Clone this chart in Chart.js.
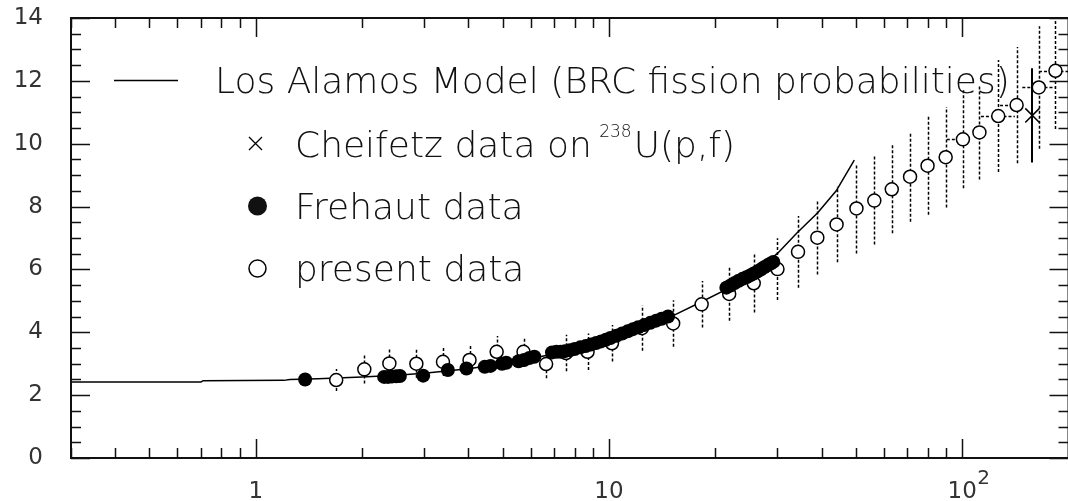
<!DOCTYPE html>
<html lang="en">
<head>
<meta charset="UTF-8">
<title>Fission cross section ratio</title>
<script src="https://cdn.jsdelivr.net/npm/chart.js"></script>
<style>
    html, body { margin: 0; padding: 0; background: #fff; overflow: hidden; }
    .wrap { position: relative; width: 1068px; height: 501px; overflow: hidden; }
    .wrap canvas { position: absolute; left: 0; top: 0; }
</style>
</head>
<body>
<div class="wrap"><canvas id="chart" width="1080" height="501"></canvas></div>
<script>
// Los Alamos model curve
const modelE = [0.3, 0.7, 0.71, 1.2, 1.25, 1.5, 2, 2.5, 3, 4, 5, 6, 7, 8, 10, 12, 15, 18.3, 22, 26, 30, 34, 39, 44, 49.5];
const modelY = [2.42, 2.42, 2.46, 2.47, 2.5, 2.52, 2.58, 2.63, 2.7, 2.84, 3.0, 3.16, 3.32, 3.47, 3.76, 4.1, 4.5, 4.97, 5.42, 5.95, 6.51, 7.15, 7.8, 8.5, 9.48];

// Frehaut data (filled circles)
const frehautE = [1.38, 2.31, 2.37, 2.43, 2.5, 2.56, 2.98, 3.5, 3.95, 4.45, 4.62, 4.98, 5.12, 5.55, 5.75, 5.95, 6.15,
    6.9, 7.1, 7.3, 7.5, 7.75, 8.0, 8.3, 8.6, 8.9, 9.2, 9.5, 9.8, 10.1, 10.5, 10.9, 11.3, 11.7, 12.1, 12.6, 13.1, 13.6, 14.1, 14.7,
    21.5, 22.1, 22.7, 23.3, 23.9, 24.5, 25.1, 25.7, 26.3, 26.9, 27.5, 28.1, 28.7, 29.2];
const frehautY = [2.5, 2.58, 2.58, 2.59, 2.6, 2.61, 2.62, 2.8, 2.85, 2.9, 2.93, 3.0, 3.03, 3.08, 3.12, 3.18, 3.22,
    3.36, 3.38, 3.38, 3.4, 3.43, 3.47, 3.52, 3.56, 3.61, 3.66, 3.71, 3.76, 3.82, 3.89, 3.96, 4.03, 4.1, 4.16, 4.23, 4.3, 4.37, 4.43, 4.5,
    5.42, 5.49, 5.57, 5.64, 5.7, 5.75, 5.81, 5.87, 5.93, 6.0, 6.07, 6.13, 6.19, 6.24];

// present data (open circles) with errors
const presentE = [1.69, 2.03, 2.39, 2.85, 3.39, 4.03, 4.81, 5.73, 6.64, 7.56, 8.7, 10.2, 12.4, 15.2, 18.3, 21.9, 25.7, 30.0,
    34.3, 38.9, 44.1, 50.2, 56.4, 63.2, 71.2, 79.8, 89.8, 100.5, 111.9, 126.5, 142.6, 164.8, 183.7];
const presentY = [2.48, 2.82, 3.01, 3.0, 3.06, 3.12, 3.38, 3.38, 2.99, 3.34, 3.38, 3.65, 4.13, 4.28, 4.89, 5.22, 5.56, 6.01,
    6.56, 7.01, 7.43, 7.94, 8.19, 8.55, 8.95, 9.3, 9.57, 10.14, 10.36, 10.88, 11.23, 11.79, 12.32];
const presentErr = [0.35, 0.45, 0.45, 0.45, 0.45, 0.45, 0.5, 0.48, 0.45, 0.58, 0.58, 0.58, 0.72, 0.74, 0.74, 0.85, 0.93, 0.98,
    1.14, 1.17, 1.2, 1.43, 1.4, 1.4, 1.43, 1.56, 1.6, 1.56, 1.5, 1.78, 1.85, 1.95, 1.85];
// energy bin edges for the highest points (0 = none)
const presentBinLo = [0, 0, 0, 0, 0, 0, 0, 0, 0, 0, 0, 0, 0, 0, 0, 0, 0, 0, 0, 0, 0, 0, 0, 0, 0, 0, 0, 90.5, 0, 113, 128, 148, 165];
const presentBinHi = [0, 0, 0, 0, 0, 0, 0, 0, 0, 0, 0, 0, 0, 0, 0, 0, 0, 0, 0, 0, 0, 0, 0, 0, 0, 0, 0, 0, 0, 141, 0, 184, 200];

// Cheifetz data on 238U(p,f)
const cheifetzE = [158];
const cheifetzY = [10.9];
const cheifetzErr = [1.5];

const yTicks = [0, 2, 4, 6, 8, 10, 12, 14];
const xLabelValues = [1, 10, 100];

const pts = (xs, ys) => xs.map((e, i) => ({ x: e, y: ys[i] }));

const errorBars = {
    id: 'errorBars',
    beforeDatasetsDraw(chart) {
        const { ctx, chartArea: a, scales: { x, y } } = chart;
        ctx.save();
        ctx.beginPath();
        ctx.rect(a.left, a.top, a.right - a.left, a.bottom - a.top);
        ctx.clip();
        ctx.strokeStyle = '#000';
        ctx.lineWidth = 1.5;
        ctx.setLineDash([3, 2]);
        ctx.beginPath();
        presentE.forEach((e, i) => {
            const px = Math.round(x.getPixelForValue(e)) + 0.5;
            ctx.moveTo(px, y.getPixelForValue(presentY[i] - presentErr[i]));
            ctx.lineTo(px, y.getPixelForValue(presentY[i] + presentErr[i]));
            const py = Math.round(y.getPixelForValue(presentY[i])) + 0.5;
            if (presentBinLo[i]) {
                ctx.moveTo(x.getPixelForValue(presentBinLo[i]), py);
                ctx.lineTo(px, py);
            }
            if (presentBinHi[i]) {
                ctx.moveTo(px, py);
                ctx.lineTo(x.getPixelForValue(presentBinHi[i]), py);
            }
        });
        ctx.stroke();
        ctx.setLineDash([]);
        ctx.lineWidth = 2;
        ctx.beginPath();
        cheifetzE.forEach((e, i) => {
            const px = Math.round(x.getPixelForValue(e));
            ctx.moveTo(px, y.getPixelForValue(cheifetzY[i] - cheifetzErr[i]));
            ctx.lineTo(px, y.getPixelForValue(cheifetzY[i] + cheifetzErr[i]));
        });
        ctx.stroke();
        ctx.restore();
    }
};

const frame = {
    id: 'frame',
    afterDraw(chart) {
        const { ctx, chartArea: a, scales: { x, y } } = chart;
        ctx.save();
        ctx.strokeStyle = '#111';
        ctx.lineWidth = 2;
        ctx.strokeRect(a.left, a.top, a.right - a.left, a.bottom - a.top);

        ctx.lineWidth = 1.5;
        ctx.beginPath();
        // y ticks every 0.5, long at labelled values, on both sides
        for (let v = 0; v <= 14; v += 0.5) {
            const len = v % 2 === 0 ? 19 : 10;
            const py = Math.round(y.getPixelForValue(v)) + 0.5;
            ctx.moveTo(a.left, py); ctx.lineTo(a.left + len, py);
            ctx.moveTo(a.right, py); ctx.lineTo(a.right - len, py);
        }
        // x log ticks, bottom and top
        [0.1, 1, 10, 100].forEach(dec => {
            for (let m = 1; m <= 9; m++) {
                const v = m * dec;
                if (v < 0.3 || v > 200) continue;
                const len = m === 1 ? 19 : 10;
                const px = Math.round(x.getPixelForValue(v)) + 0.5;
                ctx.moveTo(px, a.bottom); ctx.lineTo(px, a.bottom - len);
                ctx.moveTo(px, a.top); ctx.lineTo(px, a.top + len);
            }
        });
        ctx.stroke();

        // x labels
        ctx.fillStyle = '#333';
        ctx.font = '23px "DejaVu Sans"';
        ctx.textBaseline = 'alphabetic';
        xLabelValues.forEach(v => {
            const px = x.getPixelForValue(v);
            const exp = Math.round(Math.log10(v));
            if (exp < 2) {
                ctx.textAlign = 'center';
                ctx.fillText(String(v), px, 498);
            } else {
                ctx.textAlign = 'center';
                ctx.fillText('10', px, 498);
                ctx.textAlign = 'left';
                ctx.font = '20px "DejaVu Sans"';
                ctx.fillText(String(exp), px + 15, 484);
            }
        });
        ctx.restore();
    }
};

const legendBox = {
    id: 'legendBox',
    afterDraw(chart) {
        const ctx = chart.ctx;
        ctx.save();
        ctx.fillStyle = '#111';
        ctx.strokeStyle = '#000';
        ctx.textAlign = 'left';
        ctx.textBaseline = 'alphabetic';
        const big = '200 36px "DejaVu Sans"';

        // model line
        ctx.lineWidth = 1.5;
        ctx.beginPath();
        ctx.moveTo(114, 80.5); ctx.lineTo(178, 80.5);
        ctx.stroke();
        ctx.font = big;
        ctx.fillText('Los Alamos Model (BRC fission probabilities)', 215, 93);

        // Cheifetz
        ctx.lineWidth = 1.3;
        ctx.beginPath();
        ctx.moveTo(249, 137); ctx.lineTo(262, 150);
        ctx.moveTo(262, 137); ctx.lineTo(249, 150);
        ctx.stroke();
        const t = 'Cheifetz data on ';
        ctx.fillText(t, 295, 157);
        const w = ctx.measureText(t).width;
        ctx.font = '200 17px "DejaVu Sans"';
        ctx.fillText('238', 295 + w - 4, 137);
        const w2 = ctx.measureText('238').width;
        ctx.font = big;
        ctx.fillText('U(p,f)', 295 + w + w2 - 2, 157);

        // Frehaut
        ctx.beginPath();
        ctx.arc(257.5, 206, 9.5, 0, Math.PI * 2);
        ctx.fill();
        ctx.fillText('Frehaut data', 295, 219);

        // present
        ctx.lineWidth = 1.5;
        ctx.beginPath();
        ctx.arc(257.5, 268.5, 8.5, 0, Math.PI * 2);
        ctx.stroke();
        ctx.fillText('present data', 295, 281);
        ctx.restore();
    }
};

new Chart(document.getElementById('chart'), {
    type: 'scatter',
    data: {
        datasets: [
            {
                label: 'Los Alamos Model (BRC fission probabilities)',
                type: 'line',
                data: pts(modelE, modelY),
                borderColor: '#000',
                borderWidth: 1.5,
                pointRadius: 0,
                tension: 0,
                fill: false,
                order: 3
            },
            {
                label: 'present data',
                data: pts(presentE, presentY),
                pointStyle: 'circle',
                pointRadius: 6.5,
                backgroundColor: '#fff',
                borderColor: '#000',
                borderWidth: 1.5,
                order: 2
            },
            {
                label: 'Frehaut data',
                data: pts(frehautE, frehautY),
                pointStyle: 'circle',
                pointRadius: 7,
                backgroundColor: '#000',
                borderColor: '#000',
                borderWidth: 0,
                order: 1
            },
            {
                label: 'Cheifetz data on 238U(p,f)',
                data: pts(cheifetzE, cheifetzY),
                pointStyle: 'crossRot',
                pointRadius: 10,
                borderColor: '#000',
                borderWidth: 1.5,
                order: 0
            }
        ]
    },
    options: {
        responsive: false,
        animation: false,
        devicePixelRatio: 1,
        layout: { padding: { top: 18, right: 1, left: 0, bottom: 0 } },
        plugins: { legend: { display: false }, tooltip: { enabled: false } },
        scales: {
            x: {
                type: 'logarithmic',
                min: 0.3,
                max: 200,
                grid: { display: false },
                border: { display: false },
                ticks: { display: false },
                afterFit(s) { s.height = 43; }
            },
            y: {
                min: 0,
                max: 14,
                grid: { display: false },
                border: { display: false },
                afterBuildTicks(s) { s.ticks = yTicks.map(v => ({ value: v })); },
                ticks: {
                    padding: 20,
                    color: '#333',
                    font: { family: 'DejaVu Sans', size: 23 }
                },
                afterFit(s) {
                    s.width = 71;
                    s.paddingTop = 0;
                    s.paddingBottom = 0;
                }
            }
        }
    },
    plugins: [errorBars, frame, legendBox]
});
</script>
</body>
</html>
